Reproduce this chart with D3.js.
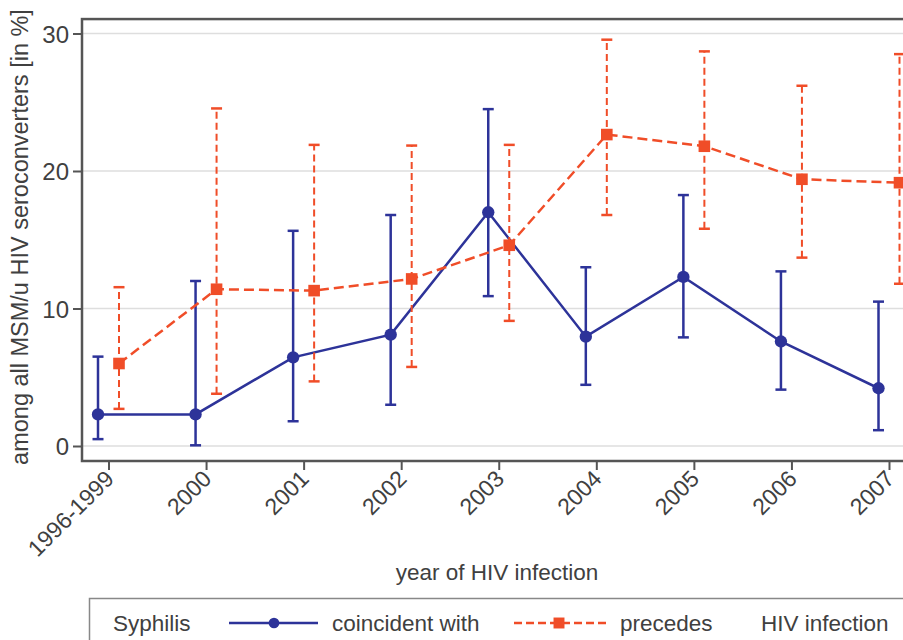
<!DOCTYPE html>
<html>
<head>
<meta charset="utf-8">
<script src="https://cdn.jsdelivr.net/npm/d3@7"></script>
<style>
  body { margin: 0; background: #fff; }
  text { font-family: "Liberation Sans", Arial, sans-serif; fill: #404040; }
</style>
</head>
<body>
<div id="chart"></div>
<script>

// categories on the x axis
var years = ["1996-1999", "2000", "2001", "2002", "2003", "2004", "2005", "2006", "2007"];

// syphilis coincident with HIV infection (point, lower, upper) in %
var coincident = [2.3, 2.3, 6.45, 8.1, 17.0, 7.95, 12.3, 7.6, 4.2];
var coincidentLow = [0.5, 0.05, 1.8, 3.0, 10.9, 4.45, 7.9, 4.1, 1.15];
var coincidentHigh = [6.5, 12.0, 15.65, 16.8, 24.5, 13.0, 18.25, 12.7, 10.5];

// syphilis precedes HIV infection
var precedes = [6.0, 11.4, 11.3, 12.15, 14.6, 22.65, 21.8, 19.4, 19.15];
var precedesLow = [2.7, 3.8, 4.7, 5.75, 9.1, 16.8, 15.8, 13.7, 11.8];
var precedesHigh = [11.55, 24.55, 21.9, 21.85, 21.9, 29.55, 28.7, 26.2, 28.5];

var yTicks = [0, 10, 20, 30];

var blue = "#2d3399";
var orange = "#f04d28";

var width = 903, height = 640;

var svg = d3.select("#chart").append("svg")
  .attr("width", width)
  .attr("height", height);

var x = d3.scalePoint()
  .domain(years)
  .range([108.5, 889]);

var y = d3.scaleLinear()
  .domain([0, 30])
  .range([446, 33.5]);

var frameLeft = 82, frameRight = 916;
var frameTop = y(31.05), frameBottom = 461;

// grid lines
svg.append("g")
  .selectAll("line")
  .data(yTicks)
  .enter().append("line")
  .attr("x1", frameLeft)
  .attr("x2", frameRight)
  .attr("y1", function (d) { return y(d); })
  .attr("y2", function (d) { return y(d); })
  .attr("stroke", "#dedede")
  .attr("stroke-width", 1.5);

// frame
svg.append("rect")
  .attr("x", frameLeft)
  .attr("y", frameTop)
  .attr("width", frameRight - frameLeft)
  .attr("height", frameBottom - frameTop)
  .attr("fill", "none")
  .attr("stroke", "#555")
  .attr("stroke-width", 2.5);

// y axis
var yAxis = d3.axisLeft(y)
  .tickValues(yTicks)
  .tickSize(9)
  .tickPadding(4);

var gy = svg.append("g")
  .attr("transform", "translate(" + frameLeft + ",0)")
  .call(yAxis);
gy.select(".domain").remove();
gy.selectAll(".tick line").attr("stroke", "#555").attr("stroke-width", 2);
gy.selectAll(".tick text")
  .style("font-size", "24px")
  .attr("fill", "#404040")
  .attr("dy", "0.36em");

// x axis
var xAxis = d3.axisBottom(x)
  .tickSize(9)
  .tickPadding(2);

var gx = svg.append("g")
  .attr("transform", "translate(0," + frameBottom + ")")
  .call(xAxis);
gx.select(".domain").remove();
gx.selectAll(".tick line").attr("stroke", "#555").attr("stroke-width", 2);
gx.selectAll(".tick text")
  .style("font-size", "23px")
  .attr("fill", "#404040")
  .attr("text-anchor", "end")
  .attr("dy", "0.35em")
  .attr("transform", "translate(2,12) rotate(-45)")
  .attr("y", 0)
  .attr("x", -2);

// axis titles
svg.append("text")
  .attr("x", 497)
  .attr("y", 580)
  .attr("text-anchor", "middle")
  .style("font-size", "22.5px")
  .text("year of HIV infection");

svg.append("text")
  .attr("transform", "translate(28,237) rotate(-90)")
  .attr("text-anchor", "middle")
  .style("font-size", "23.5px")
  .text("among all MSM/u HIV seroconverters [in %]");

var offset = 10.5;

function drawSeries(vals, lows, highs, color, dx, dashed, shape) {
  var g = svg.append("g");

  var pts = years.map(function (d, i) {
    return { cat: d, v: vals[i], lo: lows[i], hi: highs[i] };
  });

  // error bars
  var bars = g.selectAll(".err")
    .data(pts)
    .enter().append("g");

  bars.append("line")
    .attr("x1", function (d) { return x(d.cat) + dx; })
    .attr("x2", function (d) { return x(d.cat) + dx; })
    .attr("y1", function (d) { return y(d.lo); })
    .attr("y2", function (d) { return y(d.hi); })
    .attr("stroke", color)
    .attr("stroke-width", dashed ? 2 : 2.5)
    .attr("stroke-dasharray", dashed ? "7,4" : null);

  [["lo"], ["hi"]].forEach(function (k) {
    bars.append("line")
      .attr("x1", function (d) { return x(d.cat) + dx - 5.5; })
      .attr("x2", function (d) { return x(d.cat) + dx + 5.5; })
      .attr("y1", function (d) { return y(d[k[0]]); })
      .attr("y2", function (d) { return y(d[k[0]]); })
      .attr("stroke", color)
      .attr("stroke-width", 2.5);
  });

  // connecting line
  var line = d3.line()
    .x(function (d) { return x(d.cat) + dx; })
    .y(function (d) { return y(d.v); });

  g.append("path")
    .datum(pts)
    .attr("d", line)
    .attr("fill", "none")
    .attr("stroke", color)
    .attr("stroke-width", 2.5)
    .attr("stroke-dasharray", dashed ? "10,5" : null);

  // markers
  g.selectAll(".pt")
    .data(pts)
    .enter().append("path")
    .attr("transform", function (d) { return "translate(" + (x(d.cat) + dx) + "," + y(d.v) + ")"; })
    .attr("d", d3.symbol().type(shape).size(shape === d3.symbolSquare ? 135 : 120))
    .attr("fill", color);
}

drawSeries(coincident, coincidentLow, coincidentHigh, blue, -offset, false, d3.symbolCircle);
drawSeries(precedes, precedesLow, precedesHigh, orange, offset, true, d3.symbolSquare);

// legend
var legend = svg.append("g");

legend.append("rect")
  .attr("x", 89.5)
  .attr("y", 598.5)
  .attr("width", 840)
  .attr("height", 60)
  .attr("fill", "#fff")
  .attr("stroke", "#888")
  .attr("stroke-width", 1.5);

var legY = 623;

legend.append("text")
  .attr("x", 113)
  .attr("y", legY + 8)
  .style("font-size", "22.5px")
  .text("Syphilis");

legend.append("line")
  .attr("x1", 229).attr("x2", 318)
  .attr("y1", legY).attr("y2", legY)
  .attr("stroke", blue)
  .attr("stroke-width", 2.5);
legend.append("path")
  .attr("transform", "translate(274," + legY + ")")
  .attr("d", d3.symbol().type(d3.symbolCircle).size(90))
  .attr("fill", blue);
legend.append("text")
  .attr("x", 332)
  .attr("y", legY + 8)
  .style("font-size", "22.5px")
  .text("coincident with");

legend.append("line")
  .attr("x1", 514).attr("x2", 606)
  .attr("y1", legY).attr("y2", legY)
  .attr("stroke", orange)
  .attr("stroke-width", 2.5)
  .attr("stroke-dasharray", "8,4");
legend.append("path")
  .attr("transform", "translate(559," + legY + ")")
  .attr("d", d3.symbol().type(d3.symbolSquare).size(120))
  .attr("fill", orange);
legend.append("text")
  .attr("x", 620)
  .attr("y", legY + 8)
  .style("font-size", "22.5px")
  .text("precedes");

legend.append("text")
  .attr("x", 761)
  .attr("y", legY + 8)
  .style("font-size", "22.5px")
  .text("HIV infection");

</script>
</body>
</html>
